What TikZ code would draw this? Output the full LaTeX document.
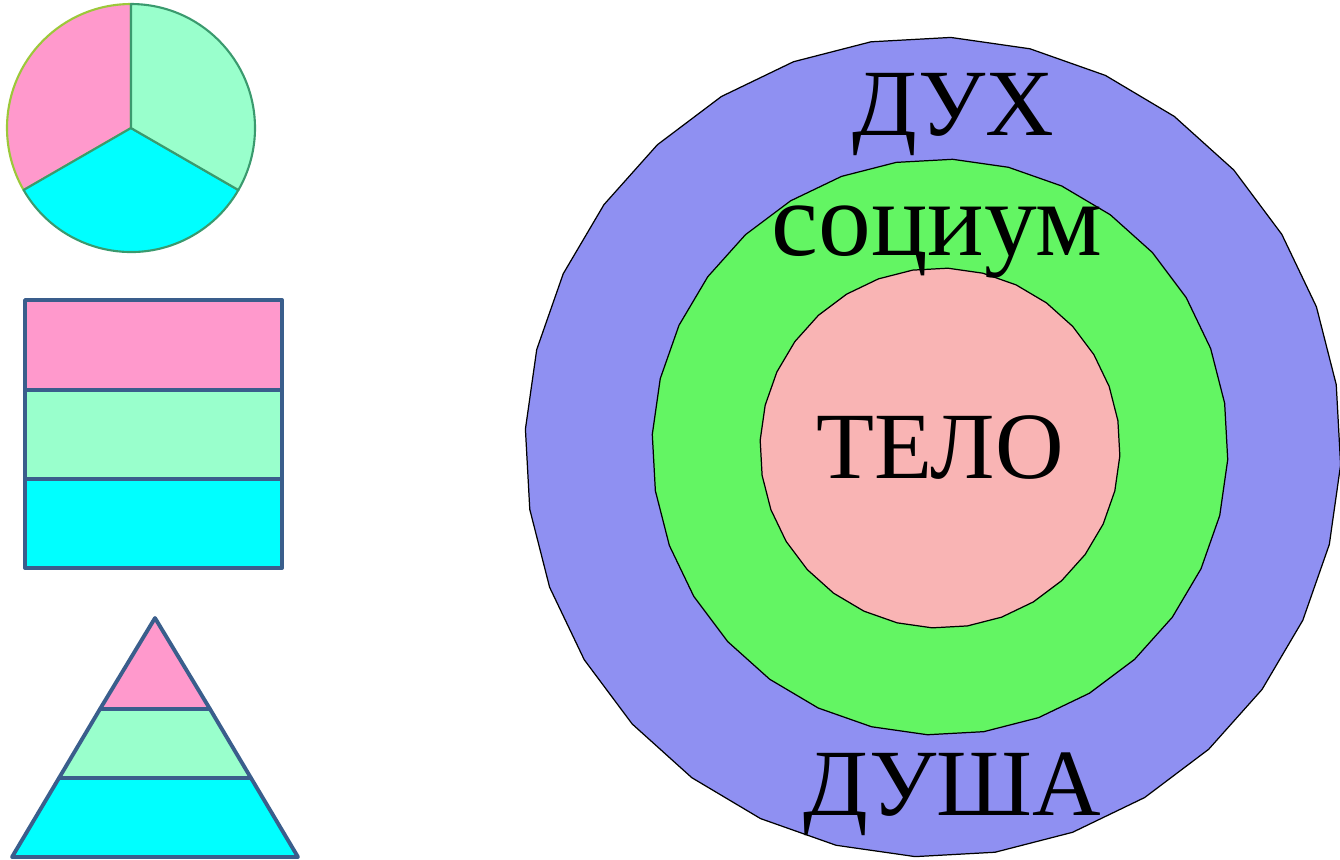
\documentclass[tikz,border=0pt]{standalone}
\usepackage{fontspec}
\setmainfont{Liberation Serif}
\usetikzlibrary{%
  positioning,%
  calc%
}
\definecolor{segpink}{HTML}{FF99CC}
\definecolor{segmint}{HTML}{99FFCC}
\definecolor{segcyan}{HTML}{00FFFF}
\definecolor{edgeblue}{HTML}{3A5E8C}
\definecolor{edgeteal}{HTML}{3A9A6E}
\definecolor{edgeolive}{HTML}{9CC83A}
\definecolor{ringblue}{HTML}{8F90F2}
\definecolor{ringgreen}{HTML}{63F563}
\definecolor{ringpink}{HTML}{F9B4B4}

\begin{document}
\begin{tikzpicture}[
  x=0.01cm, y=-0.01cm,
  line join=round,
  band/.style={draw=edgeblue, line width=1.1pt},
  ring/.style={draw=black, line width=0.35pt},
  word/.style={anchor=base, inner sep=0pt, font=\fontsize{27}{30}\selectfont},
]
\useasboundingbox (0,0) rectangle (1340,859);

% pie
\filldraw[fill=segpink, draw=edgeolive, line width=0.6pt]
  (131,128) -- ++(-90:124) arc[start angle=-90, end angle=-210, radius=124] -- cycle;
\filldraw[fill=segcyan, draw=edgeteal, line width=0.6pt]
  (131,128) -- ++(150:124) arc[start angle=150, end angle=30, radius=124] -- cycle;
\filldraw[fill=segmint, draw=edgeteal, line width=0.6pt]
  (131,128) -- ++(-90:124) arc[start angle=-90, end angle=30, radius=124] -- cycle;

% stacked bands
\foreach \col/\ya/\yb in {segpink/300/390, segmint/390/479, segcyan/479/568} {
  \draw[band, fill=\col] (25,\ya) rectangle (282,\yb);
}

% pyramid
\draw[band, fill=segcyan] (59,778) -- (251,778) -- (298,857) -- (12,857) -- cycle;
\draw[band, fill=segmint] (100,709) -- (210,709) -- (251,778) -- (59,778) -- cycle;
\draw[band, fill=segpink] (155,618) -- (210,709) -- (100,709) -- cycle;

% rings
\draw[ring, fill=ringblue] plot[samples=33, domain=-110:250] ({933+408*cos(\x)}, {447+410*sin(\x)}) -- cycle;
\draw[ring, fill=ringgreen] plot[samples=33, domain=-110:250] ({940+288*cos(\x)}, {447+288*sin(\x)}) -- cycle;
\draw[ring, fill=ringpink] plot[samples=33, domain=-110:250] ({940+180*cos(\x)}, {448+180*sin(\x)}) -- cycle;

\node[word] (dukh) at (953,135) {ДУХ};
\node[word, font=\fontsize{30}{33}\selectfont] (socium) at (937,255) {социум};
\node[word] (telo) at (940,478) {ТЕЛО};
\node[word] (dusha) at (952,815) {ДУША};

\end{tikzpicture}
\end{document}
